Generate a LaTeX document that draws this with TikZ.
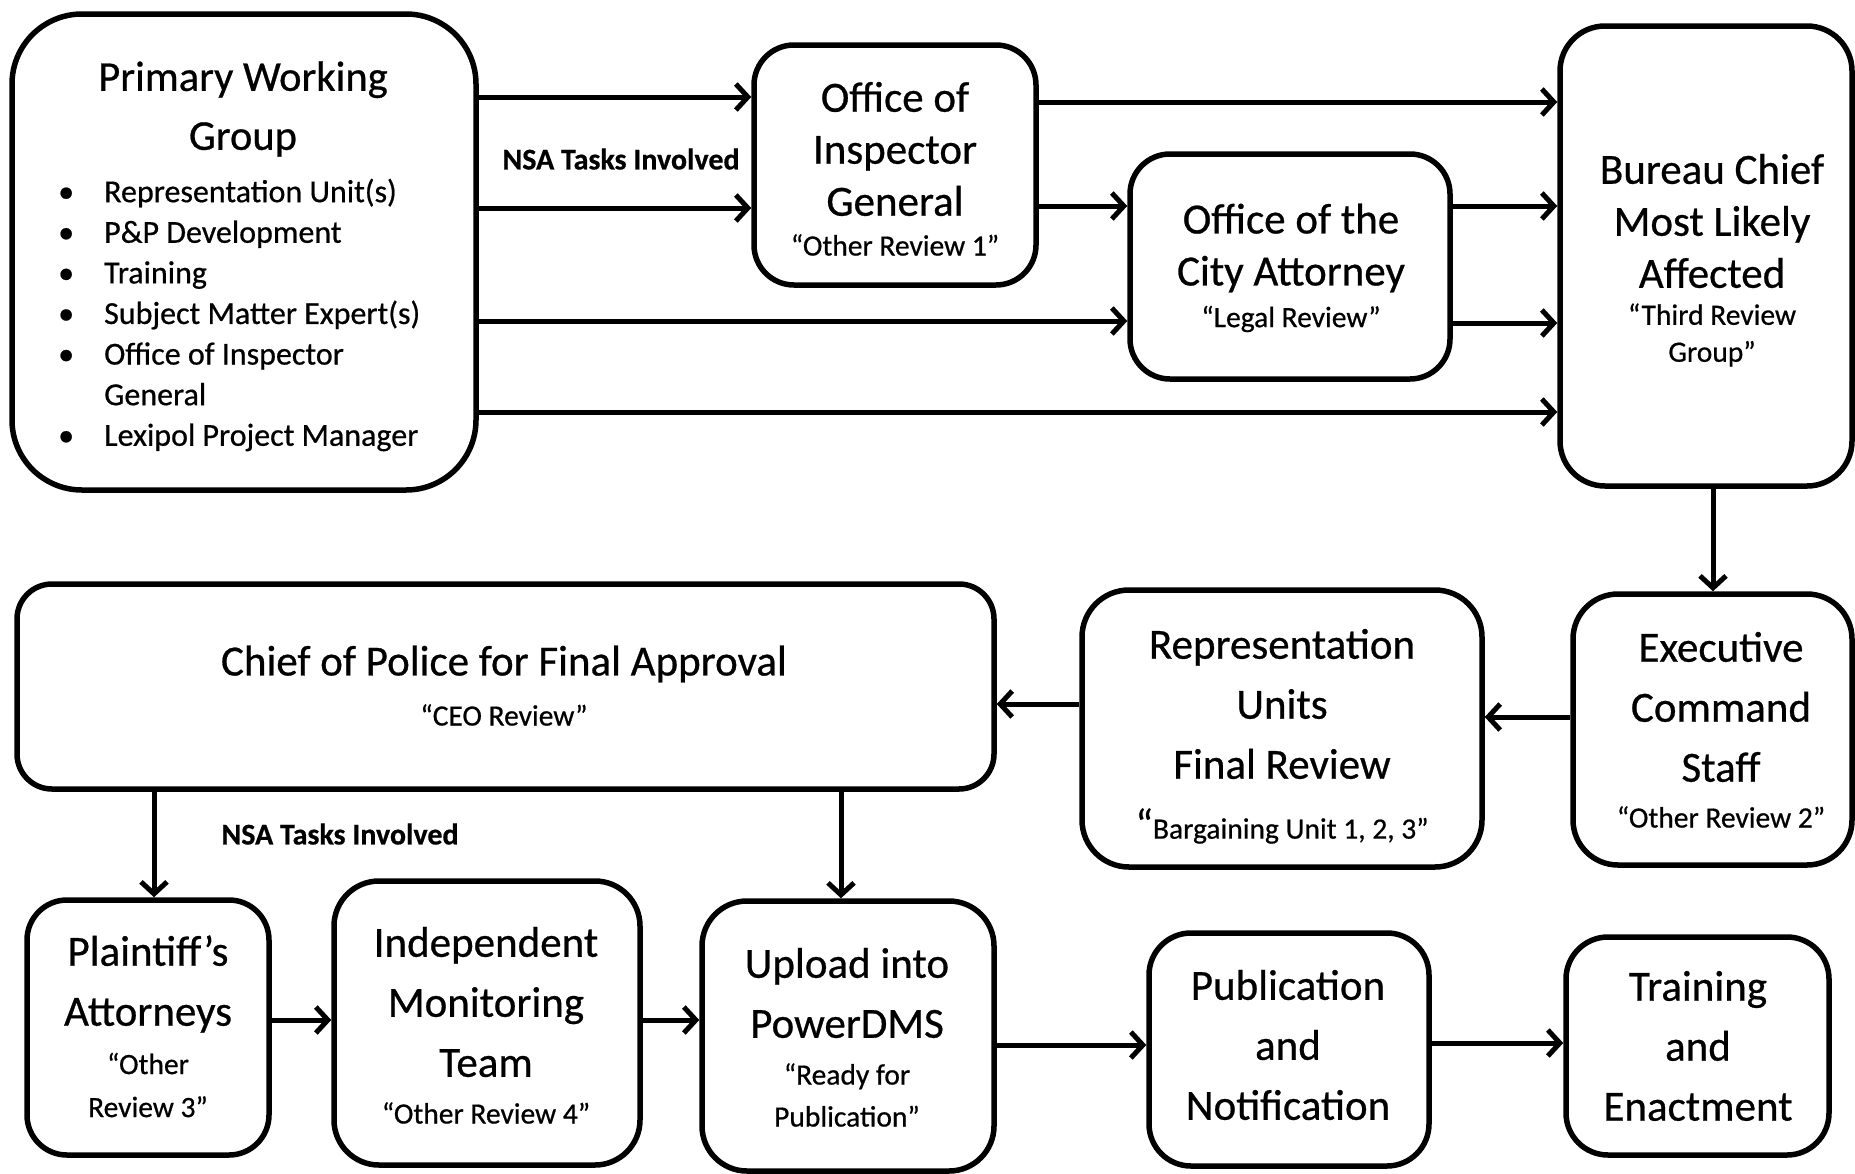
\documentclass[tikz,border=0pt]{standalone}
\usepackage{fontspec}
\setmainfont{Carlito}[FakeBold=0.6]
\newfontfamily\lblfont{Carlito}[FakeBold=0.6]
\usetikzlibrary{arrows.meta}
\begin{document}
\begin{tikzpicture}[x=1pt,y=-1pt,
  box/.style={draw, line width=5.5pt, rounded corners=#1, inner sep=0pt},
  arr/.style={line width=5pt, -{Straight Barb[length=12pt,width=26pt,line width=5pt]}},
  big/.style={font=\fontsize{43}{60}\selectfont, align=center, inner sep=0pt},
  bigA/.style={font=\fontsize{43}{52}\selectfont, align=center, inner sep=0pt},
  sub/.style={font=\fontsize{29.5}{42}\selectfont, align=center, inner sep=0pt},
  lbl/.style={font=\fontsize{30}{30}\selectfont\bfseries, inner sep=0pt}]
\useasboundingbox[fill=white] (0,0) rectangle (1855,1173);

% boxes
\node[box=70pt, minimum width=464pt, minimum height=476pt] (pwg) at (244,252) {};
\node[box=40pt, minimum width=282pt, minimum height=240pt] (oig) at (895,165) {};
\node[box=40pt, minimum width=320pt, minimum height=225pt] (oca) at (1290,266.5) {};
\node[box=45pt, minimum width=292pt, minimum height=460pt] (bur) at (1706,256) {};
\node[box=35pt, minimum width=977pt, minimum height=205pt] (cop) at (505.5,686.5) {};
\node[box=47pt, minimum width=400pt, minimum height=277pt] (rep) at (1282,728.5) {};
\node[box=45pt, minimum width=279pt, minimum height=271pt] (exe) at (1712.5,729.5) {};
\node[box=40pt, minimum width=242pt, minimum height=255pt] (pla) at (148,1027.5) {};
\node[box=45pt, minimum width=306pt, minimum height=284pt] (imt) at (487,1023) {};
\node[box=45pt, minimum width=292pt, minimum height=270pt] (upl) at (848,1036) {};
\node[box=42pt, minimum width=280pt, minimum height=233pt] (pub) at (1289,1049.5) {};
\node[box=42pt, minimum width=263pt, minimum height=218pt] (trn) at (1697.5,1046) {};

% texts
\node[font=\fontsize{42.5}{59}\selectfont, align=center, inner sep=0pt] (pwgt) at (243,109) {Primary Working\\Group};
\node[font=\fontsize{32}{40.6}\selectfont, align=left, inner sep=0pt, anchor=west] (pwgl) at (58,315)
 {\makebox[46pt][l]{•}Representation Unit(s)\\
  \makebox[46pt][l]{•}P\&P Development\\
  \makebox[46pt][l]{•}Training\\
  \makebox[46pt][l]{•}Subject Matter Expert(s)\\
  \makebox[46pt][l]{•}Office of Inspector\\
  \makebox[46pt][l]{}General\\
  \makebox[46pt][l]{•}Lexipol Project Manager};

\node[bigA] (oigt) at (895,149) {Office of\\Inspector\\General};
\node[sub] (oigs) at (895,245) {“Other Review 1”};
\node[bigA] (ocat) at (1291,248) {Office of the\\City Attorney};
\node[sub] (ocas) at (1291,319) {“Legal Review”};
\node[bigA] (burt) at (1712,221) {Bureau Chief\\Most Likely\\Affected};
\node[sub, font=\fontsize{29.5}{37}\selectfont] (burs) at (1712,335) {“Third Review\\Group”};

\node[big] (copt) at (504,664) {Chief of Police for Final Approval};
\node[sub] (cops) at (504,715) {“CEO Review”};
\node[big] (rept) at (1282,704) {Representation\\Units\\Final Review};
\node[sub] (reps) at (1282,826) {{\fontsize{42}{42}\selectfont “}Bargaining Unit 1, 2, 3”};
\node[big] (exet) at (1721,707) {Executive\\Command\\Staff};
\node[sub] (exes) at (1721,817) {“Other Review 2”};

\node[big] (plat) at (148,984) {Plaintiff’s\\Attorneys};
\node[sub, font=\fontsize{29.5}{43}\selectfont] (plas) at (148,1085) {“Other\\Review 3”};
\node[big] (imtt) at (486,1002) {Independent\\Monitoring\\Team};
\node[sub] (imts) at (486,1113) {“Other Review 4”};
\node[big] (uplt) at (847,993) {Upload into\\PowerDMS};
\node[sub] (upls) at (847,1095) {“Ready for\\Publication”};
\node[big] (pubt) at (1288,1045) {Publication\\and\\Notification};
\node[big] (trnt) at (1698,1046) {Training\\and\\Enactment};

\node[lbl] (nsa1) at (621,159) {NSA Tasks Involved};
\node[lbl] (nsa2) at (340,834) {NSA Tasks Involved};

% arrows
\draw[arr] (pwg.east |- 0,97) -- (oig.west |- 0,97);
\draw[arr] (pwg.east |- 0,208) -- (oig.west |- 0,208);
\draw[arr] (pwg.east |- 0,321) -- (oca.west |- 0,321);
\draw[arr] (pwg.east |- 0,412) -- (bur.west |- 0,412);
\draw[arr] (oig.east |- 0,102) -- (bur.west |- 0,102);
\draw[arr] (oig.east |- 0,206) -- (oca.west |- 0,206);
\draw[arr] (oca.east |- 0,206) -- (bur.west |- 0,206);
\draw[arr] (oca.east |- 0,323) -- (bur.west |- 0,323);
\draw[arr] (bur.south -| 1713,0) -- (exe.north -| 1713,0);
\draw[arr] (exe.west |- 0,717) -- (rep.east |- 0,717);
\draw[arr] (rep.west |- 0,704) -- (cop.east |- 0,704);
\draw[arr] (cop.south -| 154,0) -- (pla.north -| 154,0);
\draw[arr] (cop.south -| 841,0) -- (upl.north -| 841,0);
\draw[arr] (pla.east |- 0,1020) -- (imt.west |- 0,1020);
\draw[arr] (imt.east |- 0,1020) -- (upl.west |- 0,1020);
\draw[arr] (upl.east |- 0,1045) -- (pub.west |- 0,1045);
\draw[arr] (pub.east |- 0,1043) -- (trn.west |- 0,1043);
\end{tikzpicture}
\end{document}
